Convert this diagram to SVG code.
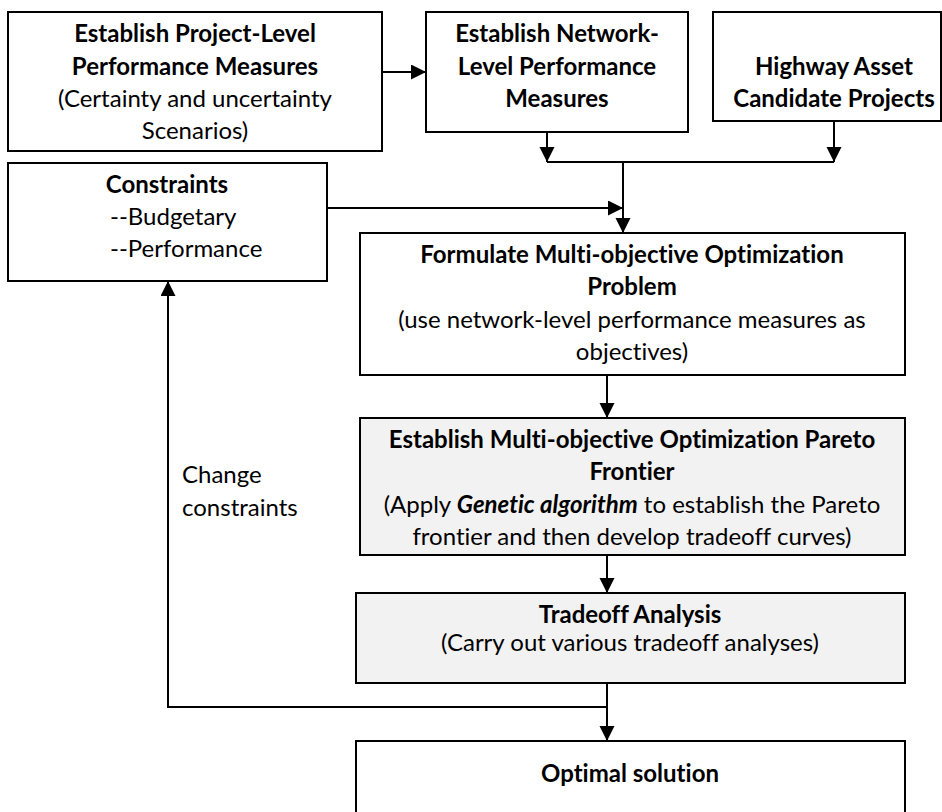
<svg xmlns="http://www.w3.org/2000/svg" width="942" height="812" viewBox="0 0 942 812">
<style>
.box{fill:#ffffff;stroke:#000;stroke-width:2}
.grey{fill:#f2f2f2}
.t{font-family:Lato,"Open Sans","Liberation Sans",sans-serif;font-size:24px;fill:#000;text-anchor:middle;font-variant-ligatures:none}
.b{font-weight:bold}
.l{text-anchor:start}
.c{fill:none;stroke:#000;stroke-width:2}
</style>
<defs>
<marker id="ah" markerUnits="userSpaceOnUse" markerWidth="16" markerHeight="16" refX="15" refY="7.5" orient="auto">
<path d="M0,0 L15,7.5 L0,15 z" fill="#000"/>
</marker>
</defs>
<g id="connectors">
<path class="c" d="M382,72 H426" marker-end="url(#ah)"/>
<path class="c" d="M547,132 V162" marker-end="url(#ah)"/>
<path class="c" d="M834,121 V162" marker-end="url(#ah)"/>
<path class="c" d="M547,162 H834"/>
<path class="c" d="M623,162 V233" marker-end="url(#ah)"/>
<path class="c" d="M327,208 H623" marker-end="url(#ah)"/>
<path class="c" d="M607,375 V418" marker-end="url(#ah)"/>
<path class="c" d="M607,555 V593" marker-end="url(#ah)"/>
<path class="c" d="M607,683 V741" marker-end="url(#ah)"/>
<path class="c" d="M607,707 H168 V281" marker-end="url(#ah)"/>
</g>
<g id="project-level">
<rect class="box" x="8" y="12" width="374" height="139"/>
<text class="t b" x="195" y="42">Establish Project-Level</text>
<text class="t b" x="195" y="75">Performance Measures</text>
<text class="t" x="195" y="107">(Certainty and uncertainty</text>
<text class="t" x="195" y="139">Scenarios)</text>
</g>
<g id="network-level">
<rect class="box" x="426" y="12" width="262" height="120"/>
<text class="t b" x="557" y="42">Establish Network-</text>
<text class="t b" x="557" y="75">Level Performance</text>
<text class="t b" x="557" y="107">Measures</text>
</g>
<g id="highway">
<rect class="box" x="713" y="12" width="228" height="109"/>
<text class="t b" x="834" y="75">Highway Asset</text>
<text class="t b" x="834" y="107">Candidate Projects</text>
</g>
<g id="constraints">
<rect class="box" x="8" y="163" width="319" height="118"/>
<text class="t b" x="167" y="193">Constraints</text>
<text class="t l" x="110" y="225">--Budgetary</text>
<text class="t l" x="110" y="257">--Performance</text>
</g>
<g id="formulate">
<rect class="box" x="360" y="233" width="545" height="142"/>
<text class="t b" x="632" y="263">Formulate Multi-objective Optimization</text>
<text class="t b" x="632" y="295">Problem</text>
<text class="t" x="632" y="328">(use network-level performance measures as</text>
<text class="t" x="632" y="360">objectives)</text>
</g>
<g id="pareto">
<rect class="box grey" x="360" y="418" width="545" height="137"/>
<text class="t b" x="632" y="448">Establish Multi-objective Optimization Pareto</text>
<text class="t b" x="632" y="480">Frontier</text>
<text class="t" x="632" y="513">(Apply <tspan font-weight="bold" font-style="italic">Genetic algorithm</tspan> to establish the Pareto</text>
<text class="t" x="632" y="545">frontier and then develop tradeoff curves)</text>
</g>
<g id="tradeoff">
<rect class="box grey" x="356" y="593" width="549" height="90"/>
<text class="t b" x="630" y="623">Tradeoff Analysis</text>
<text class="t" x="630" y="651">(Carry out various tradeoff analyses)</text>
</g>
<g id="optimal">
<rect class="box" x="356" y="741" width="549" height="80"/>
<text class="t b" x="630" y="782">Optimal solution</text>
</g>
<g id="label">
<text class="t l" x="182" y="483">Change</text>
<text class="t l" x="182" y="516">constraints</text>
</g>
</svg>
